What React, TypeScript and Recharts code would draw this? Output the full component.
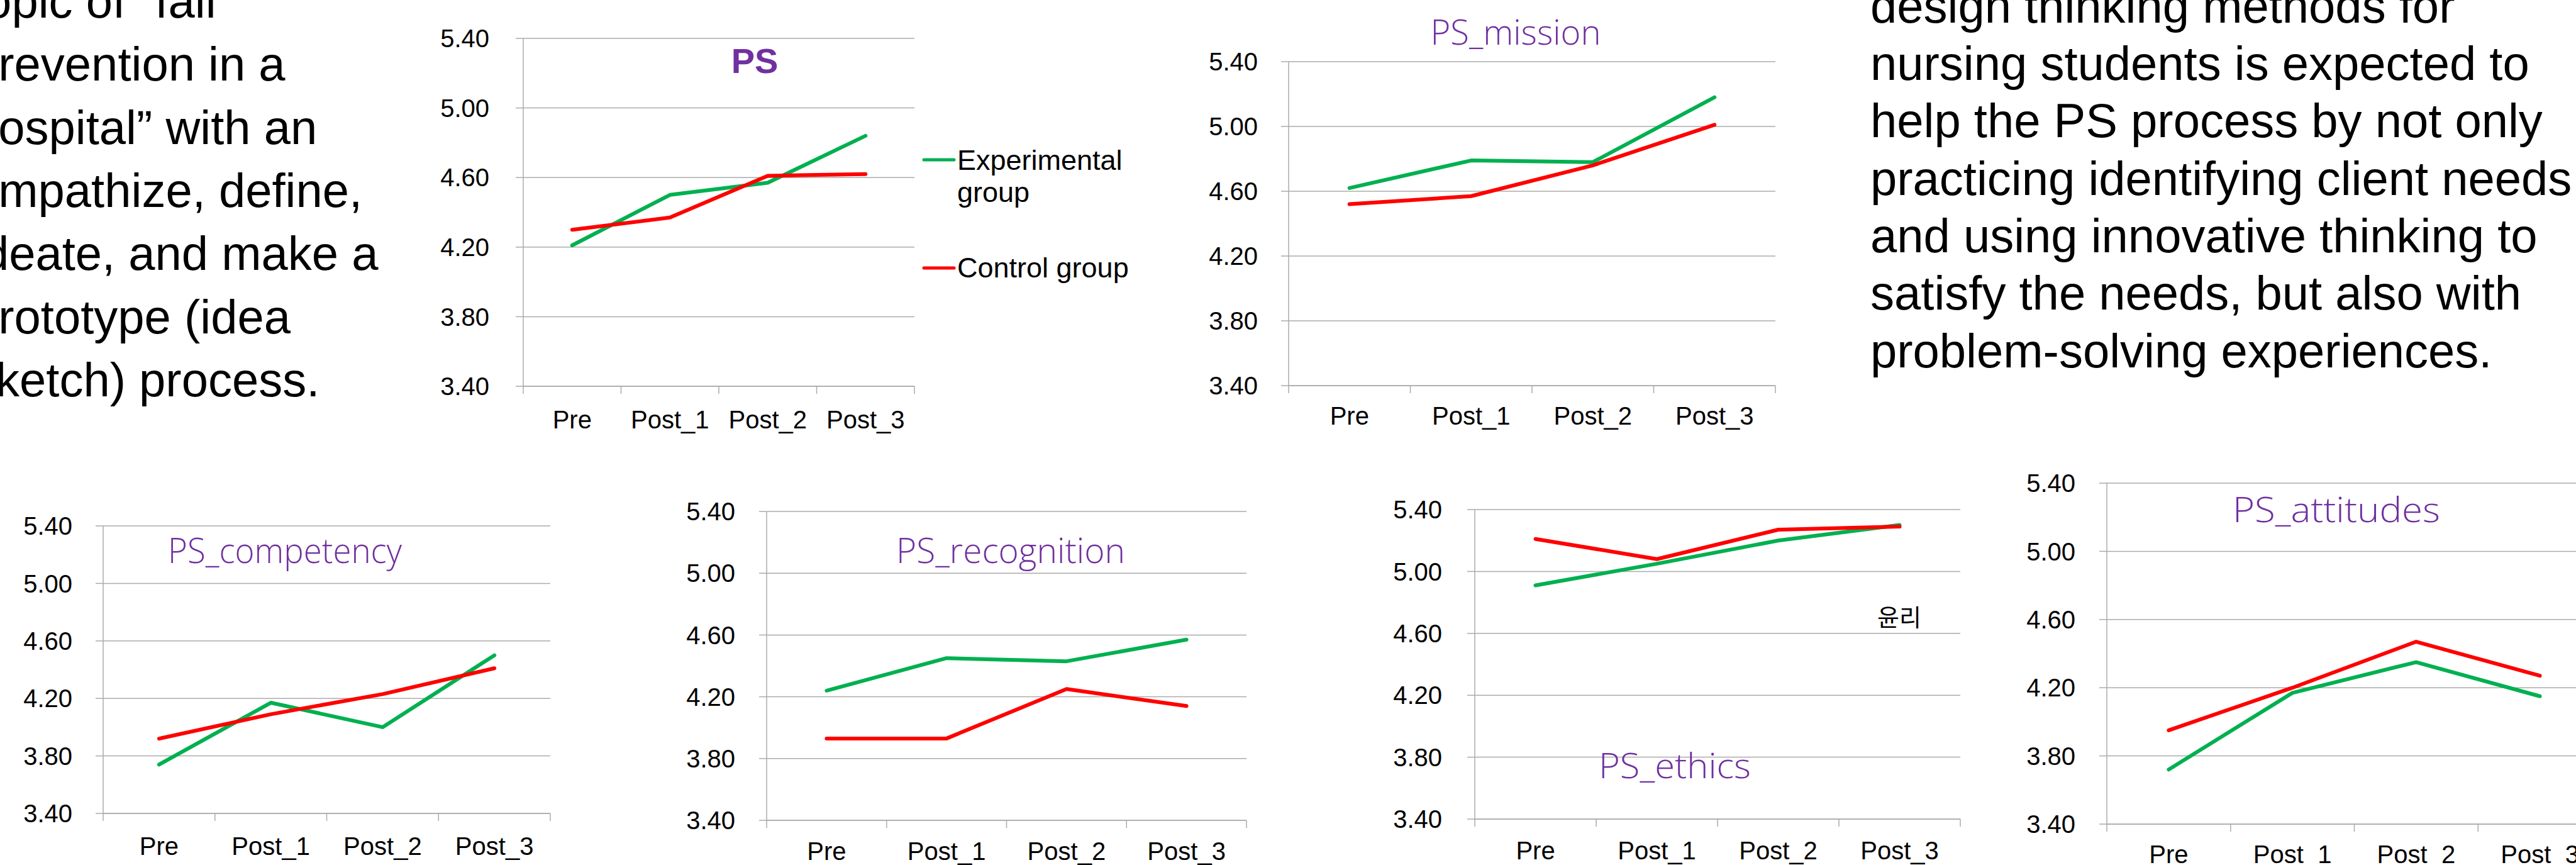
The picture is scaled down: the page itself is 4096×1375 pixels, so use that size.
import React from "react";
import { LineChart, Line, XAxis, YAxis, CartesianGrid } from "recharts";

// categories + shared axis
const stages = ["Pre", "Post_1", "Post_2", "Post_3"];
const yTicks = [3.4, 3.8, 4.2, 4.6, 5.0, 5.4];
const seriesNames = ["Experimental group", "Control group"];
const seriesColors = ["#00B050", "#FF0000"];

// values (experimental / control)
const psExp = [4.21, 4.5, 4.57, 4.84];
const psCtrl = [4.3, 4.37, 4.61, 4.62];
const missionExp = [4.62, 4.79, 4.78, 5.18];
const missionCtrl = [4.52, 4.57, 4.76, 5.01];
const competencyExp = [3.74, 4.17, 4.0, 4.5];
const competencyCtrl = [3.92, 4.09, 4.23, 4.41];
const recognitionExp = [4.24, 4.45, 4.43, 4.57];
const recognitionCtrl = [3.93, 3.93, 4.25, 4.14];
const ethicsExp = [4.91, 5.05, 5.2, 5.3];
const ethicsCtrl = [5.21, 5.08, 5.27, 5.29];
const attitudesExp = [3.72, 4.17, 4.35, 4.15];
const attitudesCtrl = [3.95, 4.2, 4.47, 4.27];

const leftLines = [
  "topic of \u201Cfall",
  "prevention in a",
  "hospital\u201D with an",
  "empathize, define,",
  "ideate, and make a",
  "prototype (idea",
  "sketch) process.",
];
const rightLines = [
  "design thinking methods for",
  "nursing students is expected to",
  "help the PS process by not only",
  "practicing identifying client needs",
  "and using innovative thinking to",
  "satisfy the needs, but also with",
  "problem-solving experiences.",
];

const FONT = "'Liberation Sans', Arial, sans-serif";
const HAND = "'Open Sans', 'DejaVu Sans', sans-serif";
const GRID = "#ababab";
const PURPLE = "#7030A0";
const TICK_FS = 40;
const boundaryTicks = [0, 0.5, 1, 1.5, 2, 2.5, 3, 3.5, 4];

type PlotBox = { L: number; R: number; T: number; B: number };

const panels = [
  { key: "ps", exp: psExp, ctrl: psCtrl, plot: { L: 832, R: 1454, T: 61, B: 614 }, drop: 67, gap: 54 },
  { key: "mission", exp: missionExp, ctrl: missionCtrl, plot: { L: 2049, R: 2823, T: 98, B: 613 }, drop: 62, gap: 49 },
  { key: "competency", exp: competencyExp, ctrl: competencyCtrl, plot: { L: 164, R: 875, T: 836, B: 1293 }, drop: 66, gap: 49 },
  { key: "recognition", exp: recognitionExp, ctrl: recognitionCtrl, plot: { L: 1219, R: 1982, T: 813, B: 1304 }, drop: 63, gap: 50 },
  { key: "ethics", exp: ethicsExp, ctrl: ethicsCtrl, plot: { L: 2345, R: 3117, T: 810, B: 1302 }, drop: 64, gap: 52 },
  { key: "attitudes", exp: attitudesExp, ctrl: attitudesCtrl, plot: { L: 3350, R: 4137, T: 768, B: 1310 }, drop: 62, gap: 50 },
];

const renderStageTick = (props: any, drop: number) => {
  const { x, y, payload } = props;
  const v = payload.value;
  if (Number.isInteger(v)) {
    return <line x1={x} y1={y} x2={x} y2={y + 12} stroke={GRID} strokeWidth={1.5} />;
  }
  return (
    <text x={x} y={y + drop} textAnchor="middle" fontSize={TICK_FS} fontFamily={FONT} fill="#000">
      {stages[Math.floor(v)]}
    </text>
  );
};

const Panel = ({ exp, ctrl, plot, drop, gap }: { exp: number[]; ctrl: number[]; plot: PlotBox; drop: number; gap: number }) => {
  const data = stages.map((s, i) => ({ pos: i + 0.5, stage: s, exp: exp[i], ctrl: ctrl[i] }));
  const yAxisW = 180;
  const xAxisH = 90;
  const mTop = 45;
  const mRight = 20;
  const left = plot.L - yAxisW;
  const top = plot.T - mTop;
  const width = plot.R - plot.L + yAxisW + mRight;
  const height = plot.B - plot.T + mTop + xAxisH;
  return (
    <div style={{ position: "absolute", left, top, width, height }}>
      <LineChart width={width} height={height} data={data} margin={{ top: mTop, right: mRight, left: 0, bottom: 0 }}>
        <CartesianGrid vertical={false} stroke={GRID} strokeWidth={1.5} />
        <XAxis
          type="number"
          dataKey="pos"
          domain={[0, 4]}
          ticks={boundaryTicks}
          interval={0}
          height={xAxisH}
          tickSize={0}
          tickMargin={0}
          tickLine={false}
          axisLine={{ stroke: GRID, strokeWidth: 1.5 }}
          tick={(p: any) => renderStageTick(p, drop)}
          allowDataOverflow
        />
        <YAxis
          type="number"
          domain={[3.4, 5.4]}
          ticks={yTicks}
          interval={0}
          width={yAxisW}
          tickSize={12}
          tickMargin={gap - 12}
          tickLine={{ stroke: GRID, strokeWidth: 1.5 }}
          axisLine={{ stroke: GRID, strokeWidth: 1.5 }}
          tick={{ fill: "#000", fontSize: TICK_FS, fontFamily: FONT }}
          tickFormatter={(v: number) => v.toFixed(2)}
          allowDataOverflow
        />
        <Line dataKey="exp" name={seriesNames[0]} stroke={seriesColors[0]} strokeWidth={6} strokeLinecap="round" strokeLinejoin="round" dot={false} isAnimationActive={false} />
        <Line dataKey="ctrl" name={seriesNames[1]} stroke={seriesColors[1]} strokeWidth={6} strokeLinecap="round" strokeLinejoin="round" dot={false} isAnimationActive={false} />
      </LineChart>
    </div>
  );
};

const HandTitle = ({ x, y, w, children }: { x: number; y: number; w: number; children: string }) => (
  <text x={x} y={y} textAnchor="middle" fontFamily={HAND} fontWeight={300} fontSize={56} fill={PURPLE} textLength={w} lengthAdjust="spacingAndGlyphs">
    {children}
  </text>
);

export default function App() {
  return (
    <div style={{ position: "absolute", left: 0, top: 0, width: 4096, height: 1375, overflow: "hidden", background: "#fff" }}>
      {panels.map((p) => (
        <Panel key={p.key} exp={p.exp} ctrl={p.ctrl} plot={p.plot} drop={p.drop} gap={p.gap} />
      ))}
      <svg width={4096} height={1375} style={{ position: "absolute", left: 0, top: 0, pointerEvents: "none" }}>
        {leftLines.map((t, i) => (
          <text key={"l" + i} x={-45} y={27.8 + i * 100.4} fontFamily={FONT} fontSize={76} fill="#000">
            {t}
          </text>
        ))}
        {rightLines.map((t, i) => (
          <text key={"r" + i} x={2974} y={35.7 + i * 91.35} fontFamily={FONT} fontSize={76} fill="#000">
            {t}
          </text>
        ))}

        <text x={1200} y={116} textAnchor="middle" fontFamily={FONT} fontWeight={700} fontSize={56} fill={PURPLE}>
          PS
        </text>
        <HandTitle x={2410} y={71} w={271}>PS_mission</HandTitle>
        <HandTitle x={453} y={895} w={372}>PS_competency</HandTitle>
        <HandTitle x={1607} y={895} w={364}>PS_recognition</HandTitle>
        <HandTitle x={2663} y={1237} w={242}>PS_ethics</HandTitle>
        <HandTitle x={3715} y={830} w={330}>PS_attitudes</HandTitle>

        <text x={3020} y={995} textAnchor="middle" fontFamily="'Noto Sans CJK KR', sans-serif" fontSize={38} fill="#000">
          윤리
        </text>

        {/* legend for the PS panel */}
        <line x1={1469} y1={254} x2={1517} y2={254} stroke={seriesColors[0]} strokeWidth={5} strokeLinecap="round" />
        <text x={1522} y={269.6} fontFamily={FONT} fontSize={45} fill="#000">
          {seriesNames[0].split(" ")[0]}
        </text>
        <text x={1522} y={321.3} fontFamily={FONT} fontSize={45} fill="#000">
          {seriesNames[0].split(" ")[1]}
        </text>
        <line x1={1469} y1={426} x2={1517} y2={426} stroke={seriesColors[1]} strokeWidth={5} strokeLinecap="round" />
        <text x={1522} y={440.8} fontFamily={FONT} fontSize={45} fill="#000">
          {seriesNames[1]}
        </text>
      </svg>
    </div>
  );
}
